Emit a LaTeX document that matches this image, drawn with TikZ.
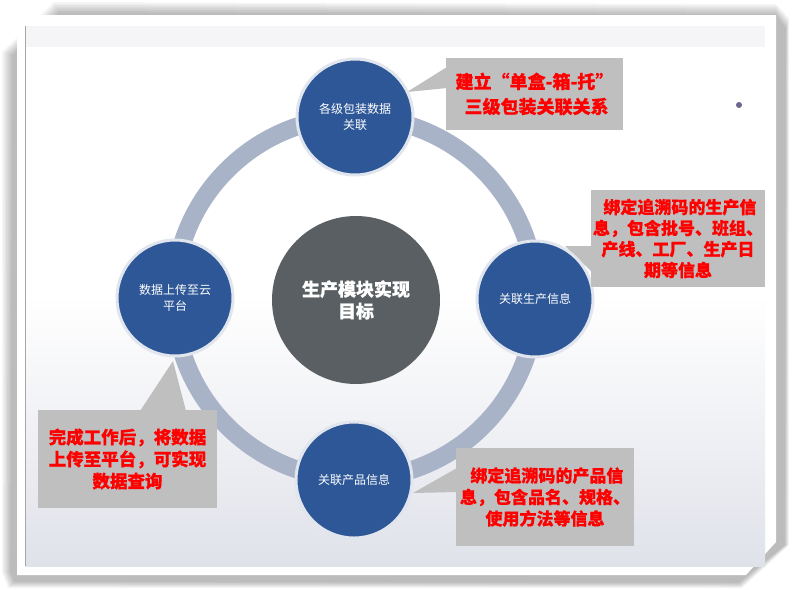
\documentclass[tikz,border=0pt]{standalone}
\usepackage{fontspec}
\newfontfamily\cjk{Noto Sans CJK SC}[BoldFeatures={FakeBold=0.6}]
\definecolor{ringc}{HTML}{A9B3C8}
\definecolor{nodec}{HTML}{2E5797}
\definecolor{rimc}{HTML}{E1E5EE}
\definecolor{centc}{HTML}{595F63}
\definecolor{callc}{HTML}{BFBFBF}
\definecolor{panelb}{HTML}{E0E2EA}
\definecolor{stripc}{HTML}{F5F5F7}
\definecolor{dotc}{HTML}{6B6590}
\definecolor{redt}{HTML}{FF0000}
\tikzset{
  smallc/.style={circle, fill=nodec, draw=rimc, line width=3pt, minimum size=116pt, inner sep=0pt,
    text=white, align=center, font=\cjk\fontsize{12}{16}\selectfont},
  callbox/.style={rectangle, fill=callc, inner sep=0pt, align=center, text=redt,
    font=\cjk\bfseries\fontsize{17.5}{22}\selectfont},
  pointer/.style={fill=callc}
}
\begin{document}
\begin{tikzpicture}[x=1pt,y=-1pt]
\useasboundingbox (0,0) rectangle (792,589);
\fill[white] (0,0) rectangle (792,589);
% soft frame shadow
\foreach \d in {0,1.5,...,10.5}{
  \fill[black, opacity=0.035] (2+\d,52+\d*0.3) -- (54+\d*0.5,2+\d) -- (776,4+\d) -- (789-\d*0.3,18+\d) -- (789-\d*0.4,545) -- (742-\d*0.3,588-\d*0.5) -- (8+\d*0.6,588-\d*0.6) -- (2+\d*0.8,572) -- cycle;
}
% white frame
\fill[white] (17,15) -- (776,15) -- (776,542) -- (746,575) -- (17,575) -- cycle;
% inner panel
\shade[top color=white, bottom color=panelb, middle color=white] (25,26) rectangle (765,566);
\fill[stripc] (25,26) rectangle (765,47);
\draw[gray!70, line width=0.6pt] (25,26) -- (25,566);
% ring
\draw[ringc, line width=18pt] (355,298) circle (181);
% center
\node[circle, fill=centc, minimum size=168pt, inner sep=0pt, text=white, align=center,
  font=\cjk\bfseries\fontsize{18}{22}\selectfont] (c) at (356,300) {生产模块实现\\目标};
% callout pointers
\coordinate (t1) at (407,92);
\coordinate (t2) at (565,246);
\coordinate (t3) at (173,361);
\coordinate (t4) at (413,493);
\fill[pointer] (t1) -- (447,67) -- (447,88) -- cycle;
\fill[pointer] (t2) -- (592,246) -- (592,272) -- cycle;
\fill[pointer] (t3) -- (140,411) -- (186,411) -- cycle;
\fill[pointer] (t4) -- (457,468) -- (457,492) -- cycle;
% small circles
\node[smallc] (n1) at (355,117) {各级包装数据\\关联};
\node[smallc] (n2) at (535,299) {关联生产信息};
\node[smallc] (n3) at (354,480) {关联产品信息};
\node[smallc] (n4) at (175,298) {数据上传至云\\平台};
% callout boxes
\node[callbox, minimum width=177pt, minimum height=72pt, font=\cjk\bfseries\fontsize{18}{25}\selectfont] (k1) at (534.5,94) {建立“单盒-箱-托”\\\ 三级包装关联关系};
\node[callbox, minimum width=174pt, minimum height=97pt, font=\cjk\bfseries\fontsize{17}{21}\selectfont] (k2) at (678,238.5) {\ 绑定追溯码的生产信\\息，包含批号、班组、\\产线、工厂、生产日\\期等信息};
\node[callbox, minimum width=179pt, minimum height=98pt] (k3) at (127.5,459) {完成工作后，将数据\\上传至平台，可实现\\数据查询};
\node[callbox, minimum width=178pt, minimum height=98pt, font=\cjk\bfseries\fontsize{17}{21.5}\selectfont] (k4) at (545,497) {\ 绑定追溯码的产品信\\息，包含品名、规格、\\使用方法等信息};
% dot
\fill[dotc] (739,105) circle (3);
\end{tikzpicture}
\end{document}
